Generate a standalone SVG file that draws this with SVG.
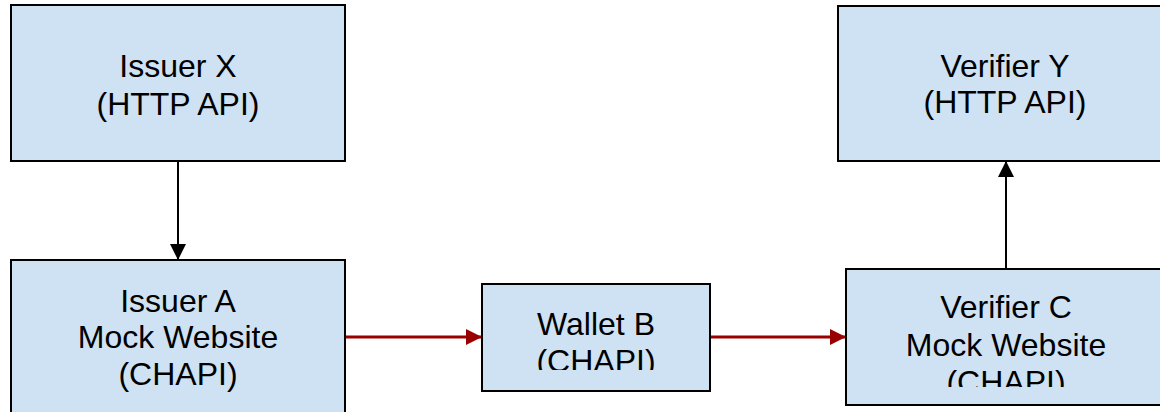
<svg xmlns="http://www.w3.org/2000/svg" width="1160" height="412" viewBox="0 0 1160 412">
  <style>
    .box { fill: #cfe2f3; stroke: #000000; stroke-width: 2; }
    .label { font-family: "Liberation Sans", Arial, sans-serif; font-size: 32px; fill: #000000; text-anchor: middle; }
    .link { fill: none; stroke: #000000; stroke-width: 2; }
    .flow { fill: none; stroke: #990000; stroke-width: 3; }
  </style>
  <defs>
    <marker id="head-black" markerUnits="userSpaceOnUse" markerWidth="16" markerHeight="16" refX="16" refY="8" orient="auto">
      <path d="M0,0 L16,8 L0,16 Z" fill="#000000"/>
    </marker>
    <marker id="head-red" markerUnits="userSpaceOnUse" markerWidth="16" markerHeight="16" refX="16" refY="8" orient="auto">
      <path d="M0,0 L16,8 L0,16 Z" fill="#990000"/>
    </marker>
    <clipPath id="clip-wallet"><rect x="482" y="284" width="228" height="86"/></clipPath>
    <clipPath id="clip-verifier-c"><rect x="846" y="269" width="320" height="118"/></clipPath>
  </defs>

  <g id="connectors">
    <line class="link" x1="178" y1="161" x2="178" y2="260" marker-end="url(#head-black)"/>
    <line class="link" x1="1006" y1="269" x2="1006" y2="161" marker-end="url(#head-black)"/>
    <line class="flow" x1="345" y1="337" x2="482" y2="337" marker-end="url(#head-red)"/>
    <line class="flow" x1="710" y1="337" x2="846" y2="337" marker-end="url(#head-red)"/>
  </g>

  <g id="issuer-x">
    <rect class="box" x="11" y="5" width="334" height="156"/>
    <text class="label" x="178" y="77">Issuer X</text>
    <text class="label" x="178" y="115">(HTTP API)</text>
  </g>

  <g id="issuer-a">
    <rect class="box" x="11" y="260" width="334" height="170"/>
    <text class="label" x="178" y="312">Issuer A</text>
    <text class="label" x="178" y="348">Mock Website</text>
    <text class="label" x="178" y="385">(CHAPI)</text>
  </g>

  <g id="wallet-b">
    <rect class="box" x="482" y="284" width="228" height="107"/>
    <g clip-path="url(#clip-wallet)">
      <text class="label" x="596" y="335">Wallet B</text>
      <text class="label" x="596" y="372">(CHAPI)</text>
    </g>
  </g>

  <g id="verifier-y">
    <rect class="box" x="838" y="6" width="334" height="155"/>
    <text class="label" x="1005" y="77">Verifier Y</text>
    <text class="label" x="1005" y="113">(HTTP API)</text>
  </g>

  <g id="verifier-c">
    <rect class="box" x="846" y="269" width="320" height="136"/>
    <g clip-path="url(#clip-verifier-c)">
      <text class="label" x="1006" y="318">Verifier C</text>
      <text class="label" x="1006" y="356">Mock Website</text>
      <text class="label" x="1006" y="393">(CHAPI)</text>
    </g>
  </g>
</svg>
